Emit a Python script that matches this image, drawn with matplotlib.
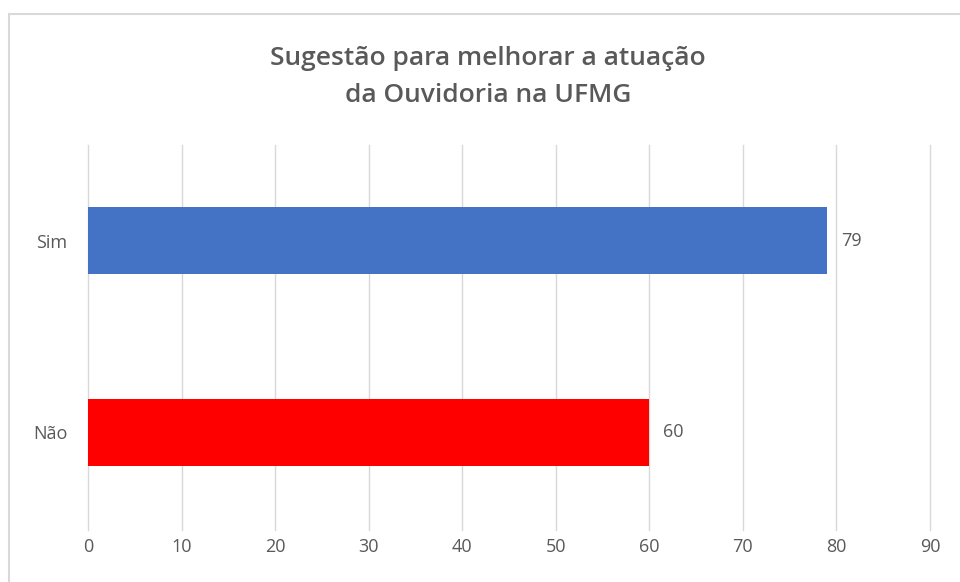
import matplotlib.pyplot as plt
from matplotlib.patches import Rectangle

categories = ["Não", "Sim"]
values = [60, 79]
colors = ["#ff0000", "#4472c4"]
xticks = list(range(0, 100, 10))

plt.rcParams['font.family'] = ['Open Sans', 'DejaVu Sans']
gray = "#595959"

fig = plt.figure(figsize=(9.6, 5.82), dpi=100)
W, H = 960, 582

# outer chart frame (cut off at right and bottom)
fig.patches.append(Rectangle((9 / W, -0.1), 1.0, 1.1 - 14 / H, transform=fig.transFigure,
                             fill=False, edgecolor="#d9d9d9", linewidth=1.5))

ax = fig.add_axes([88 / W, 1 - 530 / H, (930 - 88) / W, (530 - 145) / H])
ax.barh(categories, values, height=0.35, color=colors)
ax.set_xlim(0, 90)
ax.set_ylim(-0.51, 1.5)
ax.set_xticks(xticks)
ax.grid(axis="x", color="#d9d9d9", linewidth=1)
for gl in ax.get_xgridlines():
    gl.set_clip_on(False)
ax.set_axisbelow(True)
for s in ax.spines.values():
    s.set_visible(False)
ax.tick_params(axis="both", length=0, labelsize=13, labelcolor=gray)
ax.tick_params(axis="x", pad=6)
ax.tick_params(axis="y", pad=15)

for i, v in enumerate(values):
    ax.annotate(str(v), (v, i), xytext=(10, 0), textcoords="offset points",
                va="center", ha="left", fontsize=13, color=gray)

fig.text(488 / W, 1 - 77 / H, "Sugestão para melhorar a atuação\nda Ouvidoria na UFMG",
         ha="center", va="center", fontsize=19, fontweight="semibold", color=gray,
         linespacing=1.65)

fig.savefig("out.png", dpi=100)
